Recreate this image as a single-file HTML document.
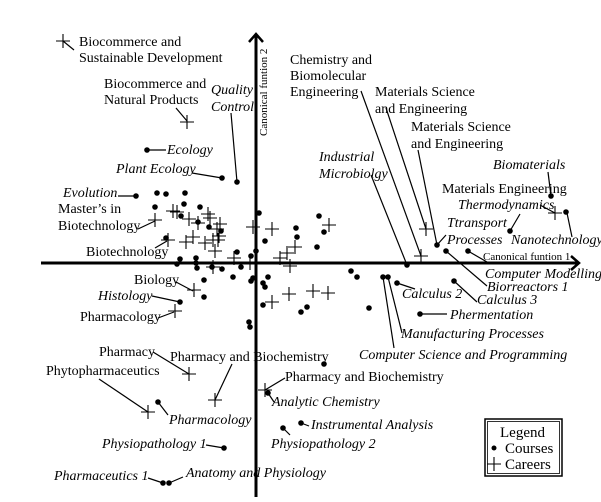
<!DOCTYPE html>
<html><head><meta charset="utf-8"><style>
html,body{margin:0;padding:0;background:#fff;}
svg{display:block;}
text{font-family:"Liberation Serif",serif;font-size:14px;fill:#000;}
.i{font-style:italic;}
</style></head><body>
<svg width="601" height="502" viewBox="0 0 601 502" xmlns="http://www.w3.org/2000/svg">
<defs>
<path id="p" d="M-7 0H7M0 -7V7" stroke="#000" stroke-width="1.1" fill="none"/>
</defs>
<g stroke="#000" stroke-width="3" fill="none">
<line x1="41" y1="263" x2="578" y2="263"/>
<polyline points="571,256 579,263 571,270" stroke-width="2.5"/>
<line x1="256" y1="35" x2="256" y2="497"/>
<polyline points="249,42 256,34 263,42" stroke-width="2.5"/>
</g>
<text x="0" y="0" transform="translate(267,136) rotate(-90)" style="font-size:11px">Canonical funtion 2</text>
<text x="483" y="260" style="font-size:11px">Canonical funtion 1</text>

<g stroke="#000" stroke-width="1.2" fill="none">
<line x1="63" y1="41" x2="74" y2="50"/>
<line x1="176" y1="108" x2="187" y2="121"/>
<line x1="231" y1="113" x2="237" y2="182"/>
<line x1="147" y1="150" x2="166" y2="150"/>
<line x1="192" y1="173" x2="222" y2="178"/>
<line x1="118" y1="196" x2="136" y2="196"/>
<line x1="138" y1="229" x2="155" y2="221"/>
<line x1="155" y1="248" x2="167" y2="241"/>
<line x1="176" y1="282" x2="193" y2="291"/>
<line x1="152" y1="296" x2="180" y2="302"/>
<line x1="158" y1="318" x2="174" y2="312"/>
<line x1="153" y1="352" x2="189" y2="374"/>
<line x1="232" y1="364" x2="215" y2="400"/>
<line x1="99" y1="379" x2="148" y2="412"/>
<line x1="158" y1="402" x2="168" y2="415"/>
<line x1="285" y1="378" x2="265" y2="390"/>
<line x1="268" y1="393" x2="274" y2="402"/>
<line x1="301" y1="423" x2="309" y2="426"/>
<line x1="283" y1="428" x2="290" y2="435"/>
<line x1="206" y1="445" x2="224" y2="448"/>
<line x1="148" y1="478" x2="163" y2="483"/>
<line x1="169" y1="483" x2="183" y2="477"/>
<line x1="361" y1="91" x2="421" y2="256"/>
<line x1="386" y1="108" x2="426" y2="229"/>
<line x1="418" y1="150" x2="437" y2="245"/>
<line x1="371" y1="175" x2="407" y2="265"/>
<line x1="437" y1="245" x2="446" y2="235"/>
<line x1="548" y1="172" x2="551" y2="196"/>
<line x1="540" y1="205" x2="555" y2="213"/>
<line x1="567" y1="213" x2="572" y2="237"/>
<line x1="510" y1="231" x2="520" y2="214"/>
<line x1="468" y1="251" x2="487" y2="262"/>
<line x1="446" y1="251" x2="487" y2="286"/>
<line x1="454" y1="281" x2="477" y2="302"/>
<line x1="397" y1="283" x2="415" y2="289"/>
<line x1="420" y1="314" x2="447" y2="314"/>
<line x1="388" y1="277" x2="402" y2="333"/>
<line x1="383" y1="277" x2="394" y2="348"/>
</g>

<g fill="#000">
<circle cx="147" cy="150" r="2.8"/><circle cx="222" cy="178" r="2.8"/><circle cx="237" cy="182" r="2.8"/>
<circle cx="136" cy="196" r="2.8"/><circle cx="157" cy="193" r="2.8"/><circle cx="166" cy="194" r="2.8"/>
<circle cx="185" cy="193" r="2.8"/><circle cx="155" cy="207" r="2.8"/><circle cx="184" cy="204" r="2.8"/>
<circle cx="200" cy="207" r="2.8"/><circle cx="259" cy="213" r="2.8"/><circle cx="181" cy="216" r="2.8"/>
<circle cx="198" cy="222" r="2.8"/><circle cx="209" cy="227" r="2.8"/><circle cx="221" cy="231" r="2.8"/>
<circle cx="296" cy="228" r="2.8"/><circle cx="297" cy="237" r="2.8"/><circle cx="265" cy="241" r="2.8"/>
<circle cx="319" cy="216" r="2.8"/><circle cx="324" cy="232" r="2.8"/><circle cx="317" cy="247" r="2.8"/>
<circle cx="166" cy="238" r="2.8"/><circle cx="237" cy="252" r="2.8"/><circle cx="256" cy="251" r="2.8"/>
<circle cx="251" cy="256" r="2.8"/><circle cx="180" cy="259" r="2.8"/><circle cx="177" cy="264" r="2.8"/>
<circle cx="196" cy="258" r="2.8"/><circle cx="196" cy="263" r="2.8"/><circle cx="197" cy="268" r="2.8"/>
<circle cx="212" cy="267" r="2.8"/><circle cx="222" cy="269" r="2.8"/><circle cx="241" cy="267" r="2.8"/>
<circle cx="233" cy="277" r="2.8"/><circle cx="253" cy="278" r="2.8"/><circle cx="251" cy="281" r="2.8"/>
<circle cx="268" cy="277" r="2.8"/><circle cx="204" cy="280" r="2.8"/><circle cx="263" cy="283" r="2.8"/>
<circle cx="265" cy="287" r="2.8"/><circle cx="204" cy="297" r="2.8"/><circle cx="180" cy="302" r="2.8"/>
<circle cx="263" cy="305" r="2.8"/><circle cx="301" cy="312" r="2.8"/><circle cx="307" cy="307" r="2.8"/>
<circle cx="249" cy="322" r="2.8"/><circle cx="250" cy="327" r="2.8"/>
<circle cx="407" cy="265" r="2.8"/><circle cx="351" cy="271" r="2.8"/><circle cx="357" cy="277" r="2.8"/>
<circle cx="383" cy="277" r="2.8"/><circle cx="388" cy="277" r="2.8"/><circle cx="397" cy="283" r="2.8"/>
<circle cx="369" cy="308" r="2.8"/><circle cx="454" cy="281" r="2.8"/><circle cx="420" cy="314" r="2.8"/>
<circle cx="437" cy="245" r="2.8"/><circle cx="446" cy="251" r="2.8"/><circle cx="468" cy="251" r="2.8"/>
<circle cx="510" cy="231" r="2.8"/><circle cx="551" cy="196" r="2.8"/><circle cx="566" cy="212" r="2.8"/>
<circle cx="324" cy="364" r="2.8"/><circle cx="158" cy="402" r="2.8"/><circle cx="268" cy="393" r="2.8"/>
<circle cx="301" cy="423" r="2.8"/><circle cx="283" cy="428" r="2.8"/><circle cx="224" cy="448" r="2.8"/>
<circle cx="163" cy="483" r="2.8"/><circle cx="169" cy="483" r="2.8"/>
</g>

<g>
<use href="#p" x="63" y="41"/><use href="#p" x="187" y="122"/>
<use href="#p" x="155" y="220"/><use href="#p" x="173" y="211"/><use href="#p" x="177" y="212"/>
<use href="#p" x="189" y="219"/><use href="#p" x="198" y="223"/><use href="#p" x="208" y="214"/>
<use href="#p" x="210" y="218"/><use href="#p" x="220" y="224"/><use href="#p" x="217" y="229"/>
<use href="#p" x="253" y="227"/><use href="#p" x="272" y="229"/><use href="#p" x="219" y="236"/>
<use href="#p" x="218" y="240"/><use href="#p" x="193" y="237"/><use href="#p" x="186" y="242"/>
<use href="#p" x="205" y="243"/><use href="#p" x="213" y="240"/><use href="#p" x="215" y="251"/>
<use href="#p" x="168" y="240"/><use href="#p" x="234" y="258"/><use href="#p" x="250" y="263"/>
<use href="#p" x="280" y="258"/><use href="#p" x="287" y="253"/><use href="#p" x="295" y="247"/>
<use href="#p" x="290" y="266"/><use href="#p" x="213" y="267"/><use href="#p" x="194" y="290"/>
<use href="#p" x="175" y="311"/><use href="#p" x="272" y="302"/><use href="#p" x="289" y="294"/>
<use href="#p" x="313" y="291"/><use href="#p" x="328" y="293"/><use href="#p" x="329" y="225"/>
<use href="#p" x="421" y="256"/><use href="#p" x="426" y="229"/><use href="#p" x="555" y="213"/>
<use href="#p" x="189" y="374"/><use href="#p" x="215" y="400"/><use href="#p" x="148" y="412"/>
<use href="#p" x="265" y="390"/>
</g>

<text x="79" y="46">Biocommerce and</text>
<text x="79" y="62">Sustainable Development</text>
<text x="104" y="88">Biocommerce and</text>
<text x="104" y="104">Natural Products</text>
<text x="211" y="94" class="i">Quality</text>
<text x="211" y="111" class="i">Control</text>
<text x="290" y="64">Chemistry and</text>
<text x="290" y="80">Biomolecular</text>
<text x="290" y="96">Engineering</text>
<text x="375" y="96">Materials Science</text>
<text x="375" y="113">and Engineering</text>
<text x="411" y="131">Materials Science</text>
<text x="411" y="148">and Engineering</text>
<text x="167" y="154" class="i">Ecology</text>
<text x="116" y="173" class="i">Plant Ecology</text>
<text x="319" y="161" class="i">Industrial</text>
<text x="319" y="178" class="i">Microbiolgy</text>
<text x="493" y="169" class="i">Biomaterials</text>
<text x="442" y="193">Materials Engineering</text>
<text x="458" y="209" class="i">Thermodynamics</text>
<text x="447" y="227" class="i">Ttransport</text>
<text x="447" y="244" class="i">Processes</text>
<text x="511" y="244" class="i">Nanotechnology</text>
<text x="63" y="197" class="i">Evolution</text>
<text x="58" y="213">Master’s in</text>
<text x="58" y="230">Biotechnology</text>
<text x="86" y="256">Biotechnology</text>
<text x="485" y="278" class="i">Computer Modelling</text>
<text x="487" y="291" class="i">Biorreactors 1</text>
<text x="402" y="298" class="i">Calculus 2</text>
<text x="477" y="304" class="i">Calculus 3</text>
<text x="450" y="319" class="i">Phermentation</text>
<text x="134" y="284">Biology</text>
<text x="98" y="300" class="i">Histology</text>
<text x="80" y="321">Pharmacology</text>
<text x="401" y="338" class="i">Manufacturing Processes</text>
<text x="359" y="359" class="i">Computer Science and Programming</text>
<text x="99" y="356">Pharmacy</text>
<text x="170" y="361">Pharmacy and Biochemistry</text>
<text x="46" y="375">Phytopharmaceutics</text>
<text x="285" y="381">Pharmacy and Biochemistry</text>
<text x="272" y="406" class="i">Analytic Chemistry</text>
<text x="169" y="424" class="i">Pharmacology</text>
<text x="311" y="429" class="i">Instrumental Analysis</text>
<text x="102" y="448" class="i">Physiopathology 1</text>
<text x="271" y="448" class="i">Physiopathology 2</text>
<text x="54" y="480" class="i">Pharmaceutics 1</text>
<text x="186" y="477" class="i">Anatomy and Physiology</text>

<rect x="485" y="419" width="77" height="57" fill="#fff" stroke="#000" stroke-width="1.5"/>
<rect x="487.5" y="421.5" width="72" height="52" fill="none" stroke="#000" stroke-width="0.8"/>
<text x="500" y="437" style="font-size:15px">Legend</text>
<circle cx="494" cy="448" r="2.5" fill="#000"/>
<text x="505" y="453" style="font-size:15px">Courses</text>
<use href="#p" x="494" y="464"/>
<text x="505" y="469" style="font-size:15px">Careers</text>
</svg>
</body></html>
